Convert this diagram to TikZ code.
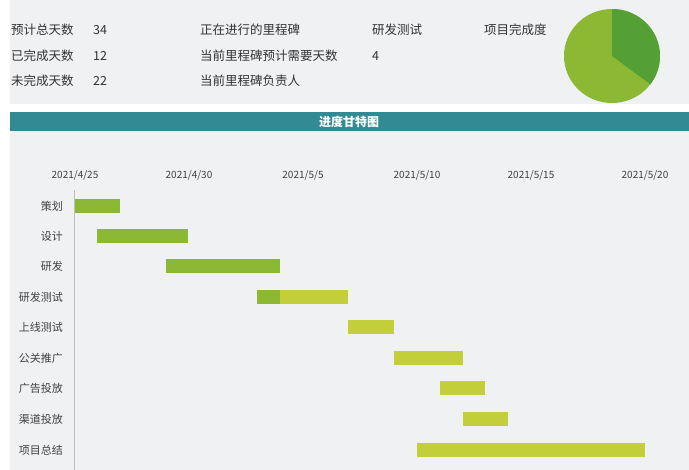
\documentclass[tikz,border=0pt]{standalone}
\usepackage{fontspec}
\setmainfont{Noto Sans CJK SC}
\begin{document}
\begin{tikzpicture}[x=1pt,y=-1pt,
  txt/.style={anchor=west,inner sep=0,font=\fontsize{12.5}{13}\selectfont,text=black!80},
  lab/.style={anchor=east,inner sep=0,font=\fontsize{11}{12}\selectfont,text=black!75},
  dt/.style={anchor=center,inner sep=0,font=\fontsize{10}{11}\selectfont,text=black!75},
  bar/.style={fill=barA,draw=none},
  barl/.style={fill=barB,draw=none}]
\definecolor{bg}{HTML}{F0F1F3}\definecolor{teal}{HTML}{318A94}
\definecolor{barA}{HTML}{8DB833}\definecolor{barB}{HTML}{C3CF3A}
\definecolor{pieA}{HTML}{55A035}
\fill[bg] (0,0) rectangle (689,470);
\useasboundingbox (0,0) rectangle (689,470);
\fill[white] (0,104) rectangle (689,112);
\fill[white] (0,0) rectangle (10,470);
\fill[teal] (10,112) rectangle (689,131);
\node[font=\fontsize{12}{13}\selectfont\bfseries,text=white] (title) at (349,122) {进度甘特图};
\foreach \t/\x/\y in {预计总天数/11/30,已完成天数/11/56,未完成天数/11/81,34/93/30,12/93/56,22/93/81,
 正在进行的里程碑/200/30,当前里程碑预计需要天数/200/56,当前里程碑负责人/200/81,研发测试/372/30,4/372/56,项目完成度/484/30}
 \node[txt] at (\x,\y) {\t};
\fill[barA] (612,56) ellipse (48 and 47);
\fill[pieA] (612,56) -- (612,9) arc[start angle=-90,end angle=37,x radius=48,y radius=47] -- cycle;
\foreach \d/\x in {2021/4/25/75,2021/4/30/188,2021/5/5/303,2021/5/10/418,2021/5/15/532,2021/5/20/645}
 {}
\foreach \d [count=\i] in {4/25,4/30,5/5,5/10,5/15,5/20}
 \node[dt] at ({75+114*(\i-1)},175) {2021/\d};
\draw[black!25] (74,190) -- (74,470);
\foreach \n/\y in {策划/206,设计/236,研发/266,研发测试/297,上线测试/327,公关推广/358,广告投放/388,渠道投放/419,项目总结/450}
 \node[lab] at (63,\y) {\n};
\fill[bar] (75,199) rectangle (120,213);
\fill[bar] (97,229) rectangle (188,243);
\fill[bar] (166,259) rectangle (280,273);
\fill[bar] (257,290) rectangle (280,304);
\fill[barl] (280,290) rectangle (348,304);
\fill[barl] (348,320) rectangle (394,334);
\fill[barl] (394,351) rectangle (463,365);
\fill[barl] (440,381) rectangle (485,395);
\fill[barl] (463,412) rectangle (508,426);
\fill[barl] (417,443) rectangle (645,457);
\end{tikzpicture}
\end{document}
